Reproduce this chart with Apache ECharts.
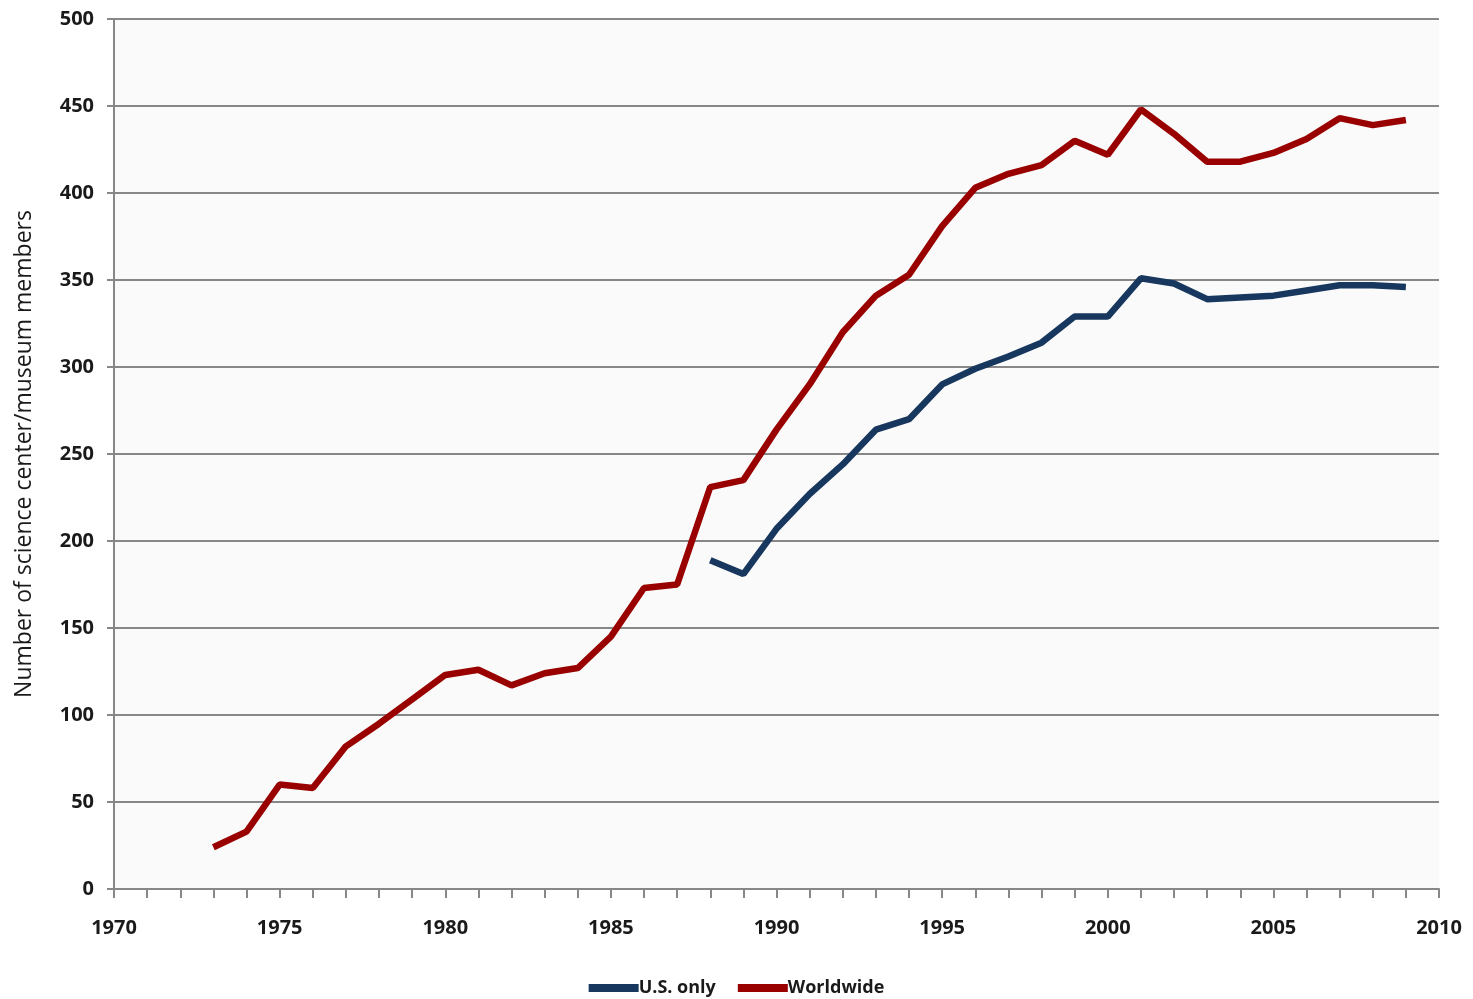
<!DOCTYPE html>
<html>
<head>
<meta charset="utf-8">
<script src="https://cdn.jsdelivr.net/npm/echarts@6/dist/echarts.min.js"></script>
<style>
html,body{margin:0;padding:0;background:#fff;}
#chart{width:1473px;height:999px;}
</style>
</head>
<body>
<div id="chart"></div>
<script>
const worldYears = [1973,1974,1975,1976,1977,1978,1979,1980,1981,1982,1983,1984,1985,1986,1987,1988,1989,1990,1991,1992,1993,1994,1995,1996,1997,1998,1999,2000,2001,2002,2003,2004,2005,2006,2007,2008,2009];
const worldValues = [24,33,60,58,82,95,109,123,126,117,124,127,145,173,175,231,235,264,290,320,341,353,381,403,411,416,430,422,448,434,418,418,423,431,443,439,442];
const usYears = [1988,1989,1990,1991,1992,1993,1994,1995,1996,1997,1998,1999,2000,2001,2002,2003,2004,2005,2006,2007,2008,2009];
const usValues = [189,181,207,227,244,264,270,290,299,306,314,329,329,351,348,339,340,341,344,347,347,346];
const seriesNames = ['U.S. only','Worldwide'];
const yTitle = 'Number of science center/museum members';

const font = 'Open Sans, Liberation Sans, sans-serif';
const chart = echarts.init(document.getElementById('chart'));
chart.setOption({
  animation:false,
  backgroundColor:'#ffffff',
  grid:{left:114,right:34,top:19,bottom:110,show:true,backgroundColor:'#fafafa',borderWidth:0},
  legend:{
    top:974,left:'center',itemWidth:50,itemHeight:8,itemGap:22,
    icon:'rect',
    textStyle:{fontFamily:font,fontSize:18,color:'#1a1a1a',fontWeight:'bold',padding:[0,0,0,-5]},
    data:seriesNames
  },
  xAxis:{
    type:'value',min:1970,max:2010,interval:5,
    axisLine:{show:true,lineStyle:{color:'#878787',width:2}},
    axisTick:{show:true,length:9,lineStyle:{color:'#878787',width:2}},
    minorTick:{show:true,splitNumber:5,length:9,lineStyle:{color:'#878787',width:2}},
    splitLine:{show:false},
    axisLabel:{margin:29,fontFamily:font,fontSize:20,fontWeight:'bold',color:'#1a1a1a',formatter:v=>String(v)}
  },
  yAxis:{
    type:'value',min:0,max:500,interval:50,
    name:yTitle,nameLocation:'middle',nameGap:78,
    nameTextStyle:{fontFamily:font,fontSize:23,color:'#1a1a1a'},
    axisLine:{show:true,lineStyle:{color:'#878787',width:2}},
    axisTick:{show:true,length:7,lineStyle:{color:'#878787',width:2}},
    splitLine:{show:true,lineStyle:{color:'#878787',width:2}},
    axisLabel:{margin:20,fontFamily:font,fontSize:20,fontWeight:'bold',color:'#1a1a1a'}
  },
  series:[
    {name:seriesNames[0],type:'line',showSymbol:false,symbol:'none',
     itemStyle:{color:'#17375e'},lineStyle:{color:'#17375e',width:6.5},
     data:usYears.map((y,i)=>[y,usValues[i]])},
    {name:seriesNames[1],type:'line',showSymbol:false,symbol:'none',
     itemStyle:{color:'#990000'},lineStyle:{color:'#990000',width:6.5},
     data:worldYears.map((y,i)=>[y,worldValues[i]])}
  ]
});
</script>
</body>
</html>
